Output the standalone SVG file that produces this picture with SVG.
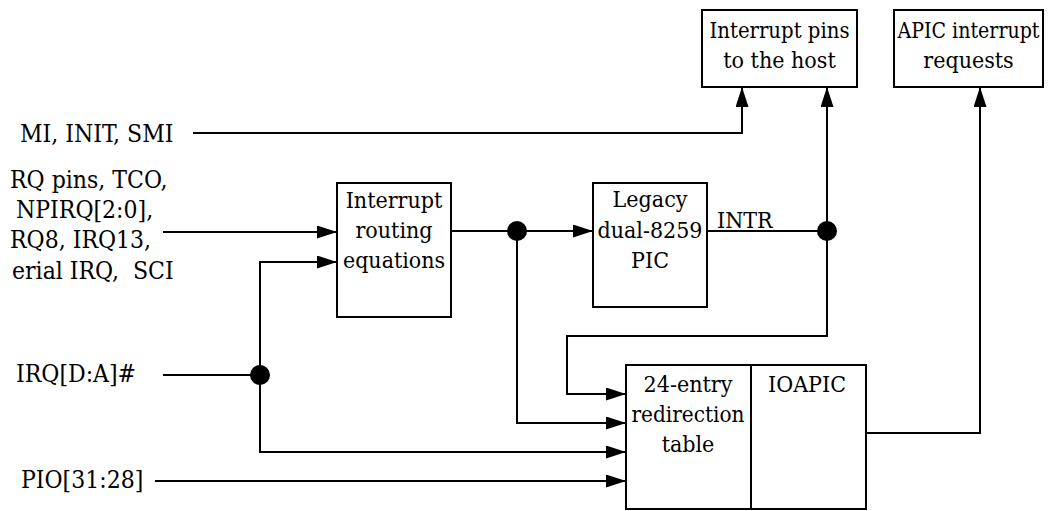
<svg xmlns="http://www.w3.org/2000/svg" width="1058" height="511" viewBox="0 0 1058 511">
  <style>
    text { font-family: "DejaVu Serif Condensed", "DejaVu Serif", serif; font-stretch: condensed; font-size: 23px; fill: #000; }
    .lbl { font-size: 24.5px; }
    .mid { text-anchor: middle; }
    .box { fill: #fff; stroke: #000; stroke-width: 2; }
    .wire { fill: none; stroke: #000; stroke-width: 2; }
    .dot { fill: #000; }
  </style>
  <defs>
    <marker id="arrow" viewBox="0 0 20 13" refX="20" refY="6.5" markerWidth="20" markerHeight="13" markerUnits="userSpaceOnUse" orient="auto">
      <path d="M0,0 L20,6.5 L0,13 Z" fill="#000"/>
    </marker>
  </defs>
  <rect width="1058" height="511" fill="#fff"/>

  <!-- input labels -->
  <g id="inputs">
    <text class="lbl" x="20" y="142">MI, INIT, SMI</text>
    <text class="lbl" x="10" y="188">RQ pins, TCO,</text>
    <text class="lbl" x="16" y="218">NPIRQ[2:0],</text>
    <text class="lbl" x="10" y="248">RQ8, IRQ13,</text>
    <text class="lbl" x="12" y="279" xml:space="preserve">erial IRQ,  SCI</text>
    <text class="lbl" x="16" y="382">IRQ[D:A]#</text>
    <text class="lbl" x="21" y="488">PIO[31:28]</text>
  </g>

  <g id="host-pins">
    <rect class="box" x="702" y="10" width="155" height="77"/>
    <text class="mid" x="779.5" y="38" textLength="140" lengthAdjust="spacingAndGlyphs">Interrupt pins</text>
    <text class="mid" x="779.5" y="68">to the host</text>
  </g>

  <g id="apic-requests">
    <rect class="box" x="894" y="10" width="149" height="77"/>
    <text class="mid" x="968.5" y="38" textLength="142" lengthAdjust="spacingAndGlyphs">APIC interrupt</text>
    <text class="mid" x="968.5" y="68">requests</text>
  </g>

  <g id="routing">
    <rect class="box" x="337" y="183" width="114" height="134"/>
    <text class="mid" x="394" y="208">Interrupt</text>
    <text class="mid" x="394" y="238">routing</text>
    <text class="mid" x="394" y="268" textLength="102" lengthAdjust="spacingAndGlyphs">equations</text>
  </g>

  <g id="pic8259">
    <rect class="box" x="593" y="183" width="114" height="124"/>
    <text class="mid" x="650" y="207">Legacy</text>
    <text class="mid" x="650" y="238" textLength="105" lengthAdjust="spacingAndGlyphs">dual-8259</text>
    <text class="mid" x="650" y="268">PIC</text>
  </g>

  <g id="ioapic">
    <rect class="box" x="626" y="365" width="240" height="144"/>
    <line class="wire" x1="751" y1="365" x2="751" y2="509"/>
    <text class="mid" x="688" y="392">24-entry</text>
    <text class="mid" x="688" y="422" textLength="113" lengthAdjust="spacingAndGlyphs">redirection</text>
    <text class="mid" x="688" y="452">table</text>
    <text class="mid" x="807" y="392">IOAPIC</text>
  </g>

  <g id="connectors">
    <polyline class="wire" points="193,133 742,133 742,87" marker-end="url(#arrow)"/>
    <line class="wire" x1="163" y1="232" x2="337" y2="232" marker-end="url(#arrow)"/>
    <polyline class="wire" points="260,375 260,262 337,262" marker-end="url(#arrow)"/>
    <line class="wire" x1="163" y1="375" x2="260" y2="375"/>
    <polyline class="wire" points="260,375 260,452 626,452" marker-end="url(#arrow)"/>
    <line class="wire" x1="155" y1="481" x2="626" y2="481" marker-end="url(#arrow)"/>
    <line class="wire" x1="451" y1="231" x2="593" y2="231" marker-end="url(#arrow)"/>
    <polyline class="wire" points="517,231 517,423 626,423" marker-end="url(#arrow)"/>
    <line class="wire" x1="707" y1="231" x2="827" y2="231"/>
    <line class="wire" x1="827" y1="231" x2="827" y2="87" marker-end="url(#arrow)"/>
    <polyline class="wire" points="827,231 827,336 567,336 567,394 626,394" marker-end="url(#arrow)"/>
    <polyline class="wire" points="866,433 980,433 980,87" marker-end="url(#arrow)"/>
    <text x="717" y="228">INTR</text>
    <circle class="dot" cx="260" cy="375" r="10"/>
    <circle class="dot" cx="517" cy="231" r="10"/>
    <circle class="dot" cx="827" cy="231" r="10"/>
  </g>
</svg>
